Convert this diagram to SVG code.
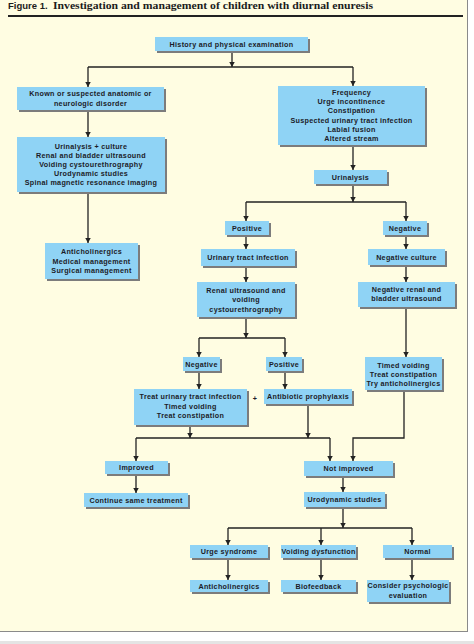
<svg xmlns="http://www.w3.org/2000/svg" width="474" height="644" viewBox="0 0 474 644">
<defs>
<marker id="ah" markerUnits="userSpaceOnUse" markerWidth="6" markerHeight="7" refX="5.5" refY="3" orient="auto">
<path d="M0,0 L5.5,3 L0,6 Z" fill="#222"/>
</marker>
</defs>
<style>
.sh{fill:#7c7c7c}
.bx{fill:#8fd3f5}
.t{font-family:"Liberation Sans",Arial,sans-serif;font-weight:bold;font-size:7.2px;letter-spacing:0.3px;fill:#1c1c28;text-anchor:middle}
.c{fill:none;stroke:#222;stroke-width:1.3}
.a{fill:none;stroke:#222;stroke-width:1.3;marker-end:url(#ah)}
</style>
<rect x="0" y="0" width="474" height="644" fill="#ffffff"/>
<rect x="0" y="0" width="467" height="631" fill="#fffde2"/>
<line x1="467.5" y1="0" x2="467.5" y2="632" stroke="#8a8a8a" stroke-width="1"/>
<line x1="0" y1="631.5" x2="468" y2="631.5" stroke="#8a8a8a" stroke-width="1.2"/>
<rect x="0" y="641" width="474" height="3" fill="#e4e4e4"/>
<text x="8" y="8.5" font-family="Liberation Sans,Arial,sans-serif" font-weight="bold" font-size="9.5" fill="#1c1c1c">Figure 1.</text>
<text x="53" y="8.5" font-family="Liberation Serif,Times New Roman,serif" font-weight="bold" font-size="10" fill="#1c1c1c" textLength="320" lengthAdjust="spacingAndGlyphs">Investigation and management of children with diurnal enuresis</text>
<line x1="8" y1="16" x2="463" y2="16" stroke="#222" stroke-width="2"/>

<g id="connectors">
<line class="a" x1="232" y1="51" x2="232" y2="67"/>
<line class="c" x1="88" y1="67" x2="353" y2="67"/>
<line class="a" x1="88" y1="67" x2="88" y2="87"/>
<line class="a" x1="353" y1="67" x2="353" y2="86"/>
<line class="a" x1="88" y1="110" x2="88" y2="137"/>
<line class="a" x1="88" y1="192" x2="88" y2="243"/>
<line class="a" x1="353" y1="145" x2="353" y2="170"/>
<line class="a" x1="353" y1="184" x2="353" y2="202"/>
<line class="c" x1="246" y1="202" x2="406" y2="202"/>
<line class="a" x1="246" y1="202" x2="246" y2="221"/>
<line class="a" x1="406" y1="202" x2="406" y2="221"/>
<line class="a" x1="246" y1="235" x2="246" y2="249"/>
<line class="a" x1="406" y1="235" x2="406" y2="249"/>
<line class="a" x1="246" y1="266" x2="246" y2="282"/>
<line class="a" x1="406" y1="265" x2="406" y2="282"/>
<line class="a" x1="246" y1="317" x2="246" y2="338"/>
<line class="c" x1="199" y1="338" x2="285" y2="338"/>
<line class="a" x1="199" y1="338" x2="199" y2="357"/>
<line class="a" x1="285" y1="338" x2="285" y2="357"/>
<line class="a" x1="406" y1="307" x2="406" y2="357"/>
<line class="a" x1="199" y1="371" x2="199" y2="389"/>
<line class="a" x1="285" y1="371" x2="285" y2="389"/>
<line class="a" x1="190" y1="425" x2="190" y2="438"/>
<line class="a" x1="308" y1="404" x2="308" y2="438"/>
<line class="c" x1="136" y1="438" x2="330" y2="438"/>
<line class="a" x1="136" y1="438" x2="136" y2="461"/>
<line class="a" x1="330" y1="438" x2="330" y2="461"/>
<path class="a" d="M404,390 V438 H353 V461"/>
<line class="a" x1="136" y1="474" x2="136" y2="493"/>
<line class="a" x1="343" y1="476" x2="343" y2="492"/>
<line class="a" x1="343" y1="507" x2="343" y2="528"/>
<line class="c" x1="228" y1="528" x2="412" y2="528"/>
<line class="a" x1="228" y1="528" x2="228" y2="545"/>
<line class="a" x1="321" y1="528" x2="321" y2="545"/>
<line class="a" x1="412" y1="528" x2="412" y2="545"/>
<line class="a" x1="228" y1="558" x2="228" y2="580"/>
<line class="a" x1="321" y1="558" x2="321" y2="580"/>
<line class="a" x1="412" y1="558" x2="412" y2="580"/>
</g>

<g id="n-history"><rect class="sh" x="157" y="39" width="153" height="14"/><rect class="bx" x="155" y="37" width="153" height="14"/><text class="t" x="231.5" y="46.5">History and physical examination</text></g>
<g id="n-known"><rect class="sh" x="19" y="89" width="147" height="23"/><rect class="bx" x="17" y="87" width="147" height="23"/><text class="t" x="90.5" y="96">Known or suspected anatomic or</text><text class="t" x="90.5" y="105.5">neurologic disorder</text></g>
<g id="n-urinalysis-culture"><rect class="sh" x="19" y="139" width="148" height="55"/><rect class="bx" x="17" y="137" width="148" height="55"/><text class="t" x="91" y="148.5">Urinalysis + culture</text><text class="t" x="91" y="157.5">Renal and bladder ultrasound</text><text class="t" x="91" y="166.5">Voiding cystourethrography</text><text class="t" x="91" y="175.8">Urodynamic studies</text><text class="t" x="91" y="184.8">Spinal magnetic resonance imaging</text></g>
<g id="n-anticholinergics-mgmt"><rect class="sh" x="47" y="245" width="93" height="36"/><rect class="bx" x="45" y="243" width="93" height="36"/><text class="t" x="91.5" y="254">Anticholinergics</text><text class="t" x="91.5" y="263.5">Medical management</text><text class="t" x="91.5" y="273">Surgical management</text></g>
<g id="n-frequency"><rect class="sh" x="280" y="88" width="147" height="59"/><rect class="bx" x="278" y="86" width="147" height="59"/><text class="t" x="351.5" y="95">Frequency</text><text class="t" x="351.5" y="104.2">Urge incontinence</text><text class="t" x="351.5" y="113.4">Constipation</text><text class="t" x="351.5" y="122.6">Suspected urinary tract infection</text><text class="t" x="351.5" y="131.8">Labial fusion</text><text class="t" x="351.5" y="141">Altered stream</text></g>
<g id="n-urinalysis"><rect class="sh" x="316" y="172" width="73" height="14"/><rect class="bx" x="314" y="170" width="73" height="14"/><text class="t" x="350.5" y="179.5">Urinalysis</text></g>
<g id="n-positive"><rect class="sh" x="227" y="223" width="44" height="14"/><rect class="bx" x="225" y="221" width="44" height="14"/><text class="t" x="247" y="230.5">Positive</text></g>
<g id="n-negative"><rect class="sh" x="385" y="223" width="44" height="14"/><rect class="bx" x="383" y="221" width="44" height="14"/><text class="t" x="405" y="230.5">Negative</text></g>
<g id="n-uti"><rect class="sh" x="203" y="251" width="94" height="17"/><rect class="bx" x="201" y="249" width="94" height="17"/><text class="t" x="248" y="260">Urinary tract infection</text></g>
<g id="n-neg-culture"><rect class="sh" x="370" y="251" width="77" height="16"/><rect class="bx" x="368" y="249" width="77" height="16"/><text class="t" x="406.5" y="259.5">Negative culture</text></g>
<g id="n-renal-us"><rect class="sh" x="199" y="284" width="98" height="35"/><rect class="bx" x="197" y="282" width="98" height="35"/><text class="t" x="246" y="292.5">Renal ultrasound and</text><text class="t" x="246" y="302">voiding</text><text class="t" x="246" y="311.8">cystourethrography</text></g>
<g id="n-neg-renal"><rect class="sh" x="360" y="284" width="97" height="25"/><rect class="bx" x="358" y="282" width="97" height="25"/><text class="t" x="406.5" y="291.8">Negative renal and</text><text class="t" x="406.5" y="300.8">bladder ultrasound</text></g>
<g id="n-negative2"><rect class="sh" x="185" y="359" width="37" height="14"/><rect class="bx" x="183" y="357" width="37" height="14"/><text class="t" x="201.5" y="366.5">Negative</text></g>
<g id="n-positive2"><rect class="sh" x="268" y="359" width="36" height="14"/><rect class="bx" x="266" y="357" width="36" height="14"/><text class="t" x="284" y="366.5">Positive</text></g>
<g id="n-treat-uti"><rect class="sh" x="136" y="391" width="113" height="36"/><rect class="bx" x="134" y="389" width="113" height="36"/><text class="t" x="190.5" y="399.2">Treat urinary tract infection</text><text class="t" x="190.5" y="408.5">Timed voiding</text><text class="t" x="190.5" y="418.2">Treat constipation</text></g>
<g id="plus"><text class="t" x="255" y="401">+</text></g>
<g id="n-antibiotic"><rect class="sh" x="266" y="391" width="88" height="15"/><rect class="bx" x="264" y="389" width="88" height="15"/><text class="t" x="308" y="399">Antibiotic prophylaxis</text></g>
<g id="n-timed-voiding"><rect class="sh" x="367" y="359" width="77" height="33"/><rect class="bx" x="365" y="357" width="77" height="33"/><text class="t" x="403.5" y="367.5">Timed voiding</text><text class="t" x="403.5" y="376.8">Treat constipation</text><text class="t" x="403.5" y="386">Try anticholinergics</text></g>
<g id="n-improved"><rect class="sh" x="107" y="463" width="63" height="13"/><rect class="bx" x="105" y="461" width="63" height="13"/><text class="t" x="136.5" y="470">Improved</text></g>
<g id="n-continue"><rect class="sh" x="86" y="495" width="104" height="14"/><rect class="bx" x="84" y="493" width="104" height="14"/><text class="t" x="136" y="502.5">Continue same treatment</text></g>
<g id="n-not-improved"><rect class="sh" x="306" y="463" width="89" height="15"/><rect class="bx" x="304" y="461" width="89" height="15"/><text class="t" x="348.5" y="471">Not improved</text></g>
<g id="n-urodynamic"><rect class="sh" x="306" y="494" width="81" height="15"/><rect class="bx" x="304" y="492" width="81" height="15"/><text class="t" x="344.5" y="502">Urodynamic studies</text></g>
<g id="n-urge"><rect class="sh" x="192" y="547" width="78" height="13"/><rect class="bx" x="190" y="545" width="78" height="13"/><text class="t" x="229" y="554">Urge syndrome</text></g>
<g id="n-voiding-dys"><rect class="sh" x="283" y="547" width="75" height="13"/><rect class="bx" x="281" y="545" width="75" height="13"/><text class="t" x="318.5" y="554">Voiding dysfunction</text></g>
<g id="n-normal"><rect class="sh" x="385" y="547" width="69" height="13"/><rect class="bx" x="383" y="545" width="69" height="13"/><text class="t" x="417.5" y="554">Normal</text></g>
<g id="n-anticholinergics"><rect class="sh" x="192" y="582" width="78" height="12"/><rect class="bx" x="190" y="580" width="78" height="12"/><text class="t" x="229" y="588.7">Anticholinergics</text></g>
<g id="n-biofeedback"><rect class="sh" x="283" y="582" width="75" height="12"/><rect class="bx" x="281" y="580" width="75" height="12"/><text class="t" x="318.5" y="588.7">Biofeedback</text></g>
<g id="n-psych"><rect class="sh" x="369" y="582" width="82" height="22"/><rect class="bx" x="367" y="580" width="82" height="22"/><text class="t" x="408" y="587.8">Consider psychologic</text><text class="t" x="408" y="597.5">evaluation</text></g>
</svg>
